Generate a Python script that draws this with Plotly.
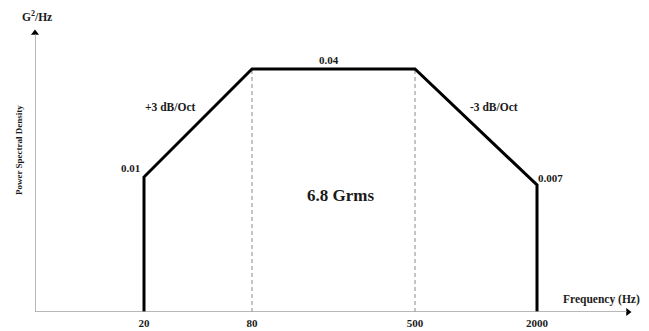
import plotly.graph_objects as go

# ---- data (schematic random-vibration PSD profile) ----
freqs = [20, 80, 500, 2000]          # Hz
psd = [0.01, 0.04, 0.04, 0.007]      # G^2/Hz
psd_labels = ["0.01", "0.04", "0.007"]
slope_labels = ["+3 dB/Oct", "-3 dB/Oct"]
grms_label = "6.8 Grms"
tick_labels = ["20", "80", "500", "2000"]

# ---- schematic layout (diagram is not to scale) ----
W, H = 649, 331
ML, MR, MT, MB = 35, 18, 30, 19
PW, PH = W - ML - MR, H - MT - MB
x_slot = [109, 217, 380, 502]        # drawing position of each frequency
y_level = {0.01: 135, 0.04: 243, 0.007: 127}  # drawing height of each PSD level

FONT = "Liberation Serif"
xs = x_slot
ys = [y_level[v] for v in psd]

fig = go.Figure()

# dashed guides at the plateau corners
for i in (1, 2):
    fig.add_trace(go.Scatter(x=[xs[i], xs[i]], y=[0, ys[i]], mode="lines",
                             line=dict(color="#8a8a8a", width=1, dash="4px,3px"),
                             hoverinfo="skip", showlegend=False))

# profile
fig.add_trace(go.Scatter(
    x=[xs[0]] + xs + [xs[-1]],
    y=[0] + ys + [0],
    mode="lines", line=dict(color="black", width=3),
    hoverinfo="skip", showlegend=False))

# axis lines with arrowheads
fig.add_shape(type="line", x0=0, y0=0, x1=PW - 4, y1=0, line=dict(color="#a0a0a0", width=1.5))
fig.add_shape(type="line", x0=0, y0=0, x1=0, y1=PH - 4, line=dict(color="#a0a0a0", width=1.5))
fig.add_trace(go.Scatter(x=[PW - 3], y=[0], mode="markers",
                         marker=dict(symbol="triangle-right", size=7, color="black"),
                         hoverinfo="skip", showlegend=False, cliponaxis=False))
fig.add_trace(go.Scatter(x=[0], y=[PH - 3], mode="markers",
                         marker=dict(symbol="triangle-up", size=7, color="black"),
                         hoverinfo="skip", showlegend=False, cliponaxis=False))

bold = dict(family=FONT, size=11, color="#1a1a1a", weight="bold")

def ann(x, y, text, xs_=0, ys_=0, size=11, **kw):
    f = dict(bold)
    f["size"] = size
    fig.add_annotation(x=x, y=y, text=text, showarrow=False, xshift=xs_, yshift=ys_,
                       xanchor="center", yanchor="middle", font=f, **kw)

# PSD level labels
ann(xs[0], ys[0], psd_labels[0], -14, 9)
ann((xs[1] + xs[2]) / 2, ys[1], psd_labels[1], -5, 9)
ann(xs[3], ys[3], psd_labels[2], 13, 7)
# slope labels
ann((xs[0] + xs[1]) / 2, (ys[0] + ys[1]) / 2, slope_labels[0], -28, 16, size=11.5)
ann((xs[2] + xs[3]) / 2, (ys[2] + ys[3]) / 2, slope_labels[1], 18, 20, size=11.5)
# overall level
ann((xs[1] + xs[2]) / 2, 117, grms_label, 7, 0, size=17)

# axis titles (paper coordinates)
def paper(px, py):
    return (px - ML) / PW, (H - MB - py) / PH

def pann(px, py, text, size, **kw):
    x, y = paper(px, py)
    f = dict(bold)
    f["size"] = size
    fig.add_annotation(x=x, y=y, xref="paper", yref="paper", text=text,
                       showarrow=False, xanchor="center", yanchor="middle", font=f, **kw)

pann(601, 299, "Frequency (Hz)", 11.5)
pann(19, 150, "Power Spectral Density", 9, textangle=-90)
pann(37, 16, "G<sup>2</sup>/Hz", 11.5)

fig.update_layout(
    width=W, height=H,
    margin=dict(l=ML, r=MR, t=MT, b=MB, pad=0, autoexpand=False),
    paper_bgcolor="white", plot_bgcolor="white",
    xaxis=dict(range=[0, PW], showgrid=False, zeroline=False, showline=False,
               tickmode="array", tickvals=xs, ticktext=tick_labels, ticks="",
               tickfont=bold, fixedrange=True, automargin=False, ticklabelstandoff=3),
    yaxis=dict(range=[0, PH], showgrid=False, zeroline=False, showline=False,
               showticklabels=False, ticks="", fixedrange=True, automargin=False),
)

fig.write_html("out.html", config={"displayModeBar": False},
               post_script="document.body.style.margin='0';document.body.style.overflow='hidden';")
